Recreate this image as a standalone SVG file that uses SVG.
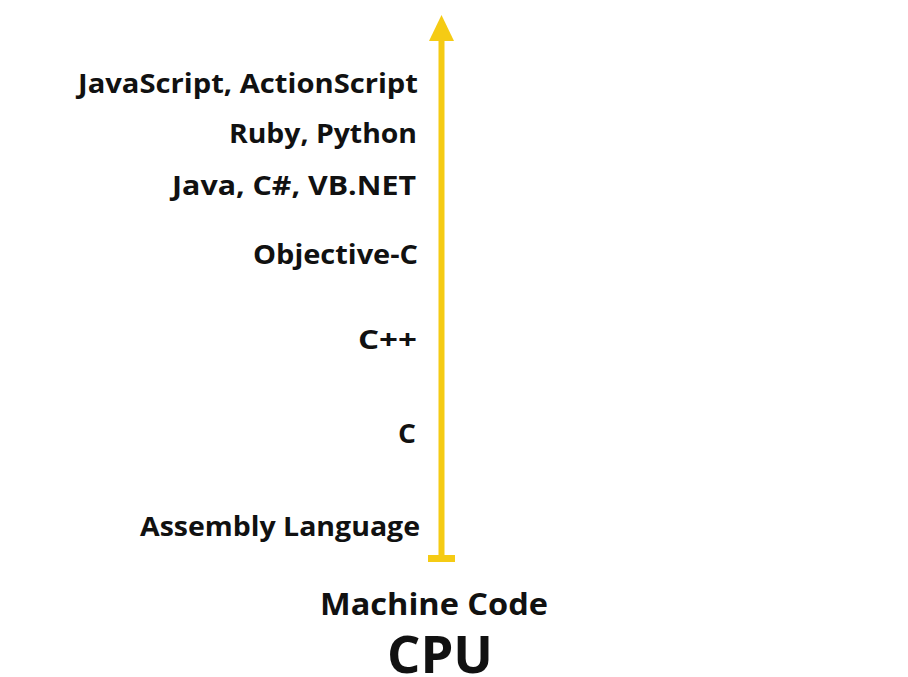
<svg xmlns="http://www.w3.org/2000/svg" width="908" height="677" viewBox="0 0 908 677">
<style>
.l{font-family:"Open Sans",Lato,"Liberation Sans",sans-serif;font-weight:bold;font-size:26px;fill:#111;text-anchor:end}
.c{font-family:"Open Sans",Lato,"Liberation Sans",sans-serif;font-weight:bold;fill:#111;text-anchor:middle}
</style>
<rect width="908" height="677" fill="#fff"/>
<g id="connectors">
<rect x="438.5" y="38" width="6" height="522" fill="#F5CB14"/>
<polygon points="441.5,15 429,41 454,41" fill="#F5CB14"/>
<rect x="428" y="555" width="27" height="7" fill="#F5CB14"/>
</g>
<g id="n-js"><text class="l" x="418" y="93" textLength="340" lengthAdjust="spacingAndGlyphs">JavaScript, ActionScript</text></g>
<g id="n-ruby"><text class="l" x="417" y="143" textLength="188" lengthAdjust="spacingAndGlyphs">Ruby, Python</text></g>
<g id="n-java"><text class="l" x="416" y="195" textLength="244" lengthAdjust="spacingAndGlyphs">Java, C#, VB.NET</text></g>
<g id="n-objc"><text class="l" x="418" y="264" textLength="165" lengthAdjust="spacingAndGlyphs">Objective-C</text></g>
<g id="n-cpp"><text class="l" x="417" y="349" textLength="59" lengthAdjust="spacingAndGlyphs">C++</text></g>
<g id="n-c"><text class="l" x="416" y="443" textLength="18" lengthAdjust="spacingAndGlyphs">C</text></g>
<g id="n-asm"><text class="l" x="420" y="536" textLength="280" lengthAdjust="spacingAndGlyphs">Assembly Language</text></g>
<g id="n-mc"><text class="c" x="434" y="615" font-size="30" textLength="228" lengthAdjust="spacingAndGlyphs">Machine Code</text></g>
<g id="n-cpu"><text class="c" x="440" y="673" font-size="52" textLength="106" lengthAdjust="spacingAndGlyphs">CPU</text></g>
</svg>
